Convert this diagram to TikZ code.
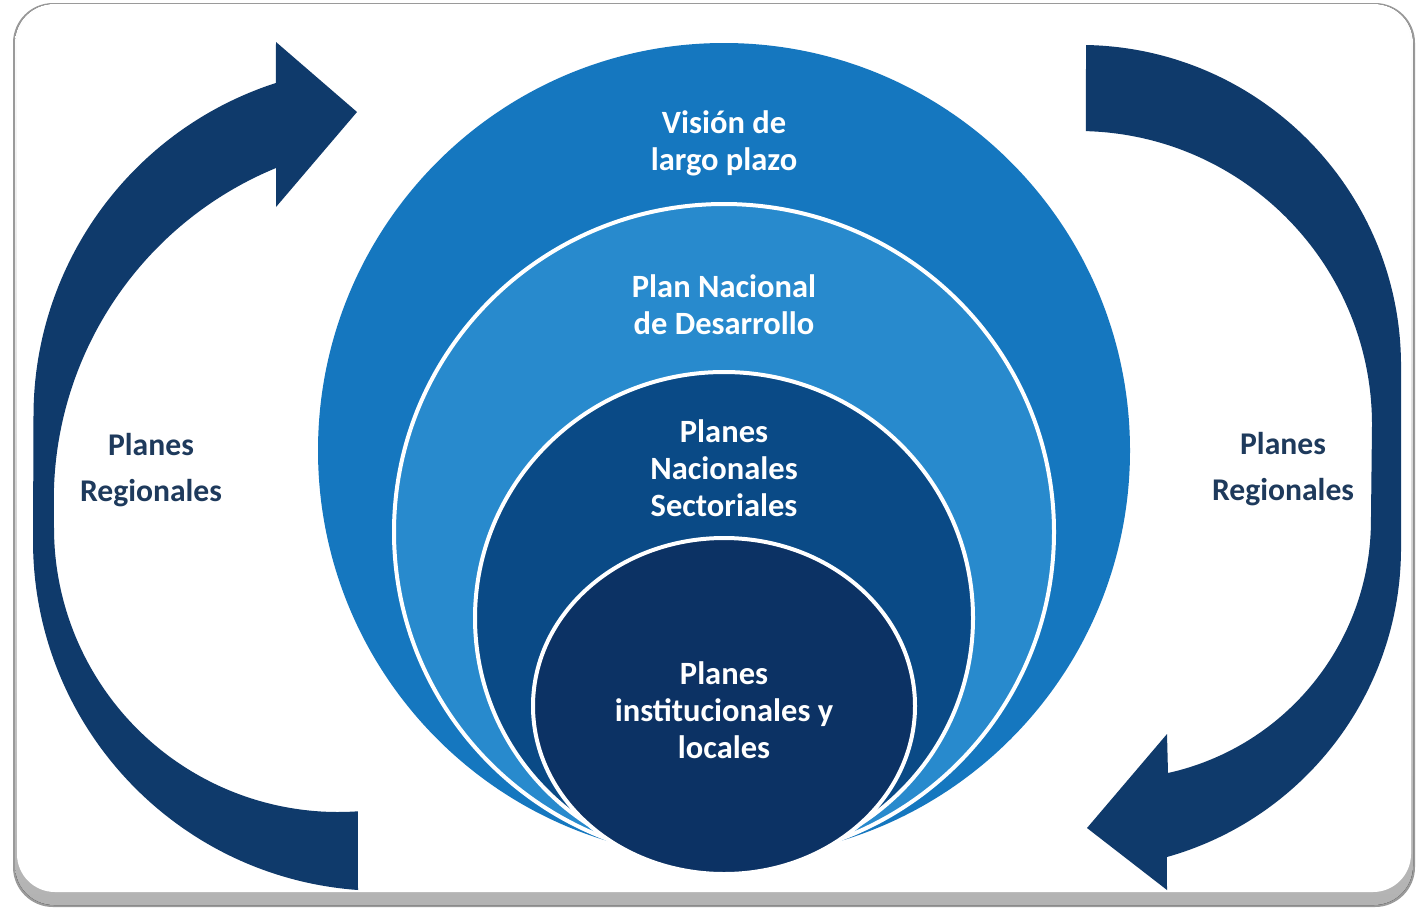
\documentclass[tikz,border=0pt]{standalone}
\usepackage{fontspec}
\setmainfont{Carlito}
\begin{document}
\begin{tikzpicture}[x=0.02cm,y=-0.02cm]
\definecolor{outercol}{HTML}{1577BF}
\definecolor{secondcol}{HTML}{288ACD}
\definecolor{thirdcol}{HTML}{0A4A86}
\definecolor{innercol}{HTML}{0C3264}
\definecolor{arrowcol}{HTML}{0F3A6B}
\definecolor{sidetext}{HTML}{1E3A5C}
\definecolor{framegray}{HTML}{9A9A9A}
\tikzset{
  inlabel/.style={text=white, font=\bfseries\fontsize{18.5}{21}\selectfont, align=center, inner sep=0pt},
  sidelabel/.style={text=sidetext, font=\bfseries\fontsize{18}{26.6}\selectfont, align=center, inner sep=0pt},
  ring/.style={draw=white, line width=0.08cm},
  arrowfill/.style={fill=arrowcol}
}
\useasboundingbox (0,0) rectangle (1416,910);
% frame
\fill[framegray, rounded corners=0.8cm] (13,3) rectangle (1415,907);
\fill[top color=white, bottom color=gray!60, rounded corners=0.78cm] (15,4) rectangle (1413,905);
\fill[white, rounded corners=0.76cm] (17,6) rectangle (1411,892);
% nested circles
\fill[outercol] (724,450.5) ellipse [x radius=406, y radius=407.5];
\filldraw[ring, fill=secondcol] (724,532) ellipse [x radius=330, y radius=328];
\filldraw[ring, fill=thirdcol] (724,618) ellipse [x radius=249, y radius=246];
\filldraw[ring, fill=innercol] (724,706) ellipse [x radius=191, y radius=168];
% left arrow
\fill[arrowfill] (357,112) -- (276,207) -- (276,168)
  arc[start angle=247.6, end angle=180, radius=359] -- (54,528)
  arc[start angle=180, end angle=86, radius=284]
  -- (358,890) arc[start angle=94.1, end angle=180, radius=350] -- (33.5,416)
  arc[start angle=180, end angle=252.1, radius=350] -- (276,42) -- cycle;
% right arrow
\fill[arrowfill] (1086,45) arc[start angle=271.07, end angle=360, radius=321] -- (1401,548)
  arc[start angle=0, end angle=74.3, radius=321]
  -- (1167,890) -- (1087,828) -- (1167,734) -- (1168,773)
  arc[start angle=77.5, end angle=0, radius=259] -- (1372,425)
  arc[start angle=0, end angle=-88.45, radius=294] -- cycle;
% labels
\node[inlabel] (vision) at (724,143) {Visión de\\largo plazo};
\node[inlabel] (pnd) at (724,305) {Plan Nacional\\de Desarrollo};
\node[inlabel] (pns) at (724,468) {Planes\\Nacionales\\Sectoriales};
\node[inlabel] (pil) at (724,710) {Planes\\institucionales y\\locales};
\node[sidelabel] (left) at (151,470) {Planes\\Regionales};
\node[sidelabel] (right) at (1283,469) {Planes\\Regionales};
\end{tikzpicture}
\end{document}
